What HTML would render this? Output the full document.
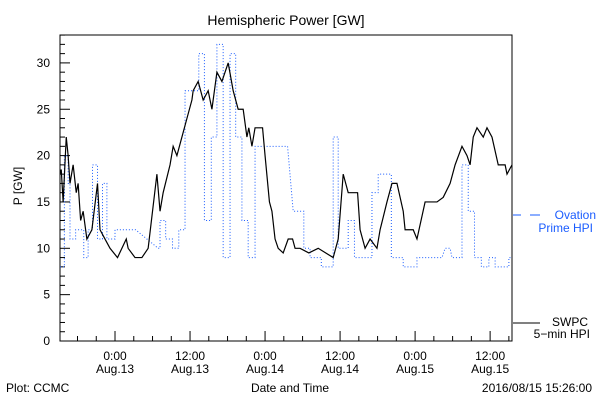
<!DOCTYPE html>
<html><head><meta charset="utf-8"><style>
body{margin:0;background:#fff;width:600px;height:400px;overflow:hidden}
svg text{font-family:"Liberation Sans",sans-serif;font-size:12px}
</style></head><body>
<svg id="chart" width="600" height="400">
<text x="286" y="25" text-anchor="middle" style="font-size:14px">Hemispheric Power [GW]</text>
<text transform="translate(22,186) rotate(-90)" text-anchor="middle">P [GW]</text>
<text x="290" y="392" text-anchor="middle">Date and Time</text>
<text x="6" y="392">Plot: CCMC</text>
<text x="592" y="392" text-anchor="end">2016/08/15 15:26:00</text>
<g>
<line x1="513" y1="215" x2="521" y2="215" stroke="#1a5cff"/><line x1="530" y1="215" x2="540" y2="215" stroke="#1a5cff"/>
<text x="596" y="219" text-anchor="end" fill="#1a5cff">Ovation</text>
<text x="593" y="232" text-anchor="end" fill="#1a5cff">Prime HPI</text>
</g>
<g>
<line x1="513" y1="323" x2="540" y2="323" stroke="#000"/>
<text x="588" y="326" text-anchor="end">SWPC</text>
<text x="590" y="338" text-anchor="end">5−min HPI</text>
</g>
<g id="axes"></g>
<g id="series"></g>
</svg>
<script>
const yTicks=[0,5,10,15,20,25,30];
const xTickHours=[0,12,24,36,48,60];
const xTickTimes=["0:00","12:00","0:00","12:00","0:00","12:00"];
const xTickDates=["Aug.13","Aug.13","Aug.14","Aug.14","Aug.15","Aug.15"];
const swpcHours=[-8.8,-8.6,-8.3,-7.8,-7.5,-7.2,-6.7,-6.2,-5.9,-5.5,-5.1,-4.5,-3.7,-2.8,-2.4,-1.6,-0.8,0.4,1.8,2.1,3.2,4.3,5.3,6.7,7.2,7.7,8.8,9.3,9.9,10.7,11.5,12.3,12.5,13.3,14.1,14.9,15.5,16.3,17.1,18.1,18.9,19.7,20.5,21.1,21.4,21.9,22.4,23.6,24,24.7,25.1,25.6,26.1,26.9,27.7,28.4,28.8,29.6,31,32.5,34.9,35.7,36.5,37.3,38.8,39.2,40,40.8,41.9,42.4,43.5,44.3,45.1,46.1,46.4,47.7,48.3,49.6,51.5,52.5,53.6,54.4,55.5,56.3,56.8,57.3,57.9,58.9,59.5,60.3,61.3,62.4,62.7,63.5];
const swpcValues=[18,18.5,15,22,20,17,19,16,17,13,14,11,12,17,12,11,10,9,11,10,9,9,10,18,14,16,19,21,20,22,24,26,27,28,26,27,25,29,28,30,27,25,25,22,23,21,23,23,20,15,14,11,10,9.5,11,11,10,10,9.5,10,9,11,18,16,16,12,10,11,10,12,15,17,17,14,12,12,11,15,15,15.5,17,19,21,20,19,22,23,22,23,22,19,19,18,19];
const ovHours=[-8.8,-8.1,-8.1,-7.5,-7.5,-7.2,-7.2,-6.3,-6.3,-5.0,-5.0,-4.3,-4.3,-3.6,-3.6,-2.8,-2.8,-2.0,-2.0,-1.3,-1.3,0,0,3.3,6.9,7.2,7.2,8.1,8.1,9.2,9.2,10.2,10.2,11.2,11.2,13.4,13.4,14.3,14.3,15.4,15.4,16.3,16.3,17.3,17.3,18.4,18.4,19.3,19.3,20.3,20.3,21.3,21.3,22.4,22.4,27.6,28.5,30.2,30.2,31.2,31.2,33.0,33.0,34.9,34.9,35.7,35.7,37.3,37.3,38.3,38.3,41.1,41.1,42.1,42.1,44.2,44.2,46.1,46.1,48.3,48.3,52.3,52.8,53.6,53.9,55.5,55.5,56.5,56.5,57.5,57.5,58.6,58.6,59.8,59.8,60.8,60.8,63.0,63.0,63.5];
const ovValues=[8,8,20,20,17,17,11,11,12,12,9,9,12,12,19,19,11,11,17,17,11,11,12,12,10,10,13,13,11,11,10,10,12,12,27,27,31,31,13,13,22,22,32,32,9,9,31,31,22,22,13,13,9,9,21,21,14,14,10,10,9,9,8,8,22,22,10,10,13,13,9,9,16,16,18,18,9,9,8,8,9,9,10,10,9,9,19,19,14,14,9,9,8,8,9,9,8,8,9,9];
const L=60,R=512,T=35,B=341,H0=-8.8,H1=63.5;
const xs=h=>L+(h-H0)/(H1-H0)*(R-L);
const ys=v=>B-(v)*9.27;
const NS="http://www.w3.org/2000/svg";
const ax=document.getElementById('axes'),se=document.getElementById('series');
function mk(p,tag,at){const e=document.createElementNS(NS,tag);for(const k in at)e.setAttribute(k,at[k]);p.appendChild(e);return e;}
const frame=mk(ax,'rect',{x:L,y:T,width:R-L,height:B-T,fill:'none',stroke:'#000'});


for(let v=0;v<=33;v++){const len=v%5===0?10:5;const t=mk(ax,'line',{x1:L,x2:L+len,y1:ys(v),y2:ys(v),stroke:'#000'});

}
yTicks.forEach(v=>{const t=mk(ax,'text',{x:L-10,y:ys(v)+4,'text-anchor':'end'});t.textContent=v;

});
for(let h=-6;h<=63;h+=3){const len=h%12===0?10:5;const t=mk(ax,'line',{x1:xs(h),x2:xs(h),y1:B,y2:B-len,stroke:'#000'});

}
xTickHours.forEach((h,i)=>{const t=mk(ax,'text',{x:xs(h),y:360,'text-anchor':'middle'});t.textContent=xTickTimes[i];


const d=mk(ax,'text',{x:xs(h),y:373,'text-anchor':'middle'});d.textContent=xTickDates[i];

});
const ov=mk(se,'polyline',{points:ovHours.map((h,i)=>xs(h)+','+ys(ovValues[i])).join(' '),fill:'none',stroke:'#1a5cff','stroke-width':1,'stroke-dasharray':'1 2'});


const sw=mk(se,'polyline',{points:swpcHours.map((h,i)=>xs(h)+','+ys(swpcValues[i])).join(' '),fill:'none',stroke:'#000','stroke-width':1.2});


</script>
</body></html>
